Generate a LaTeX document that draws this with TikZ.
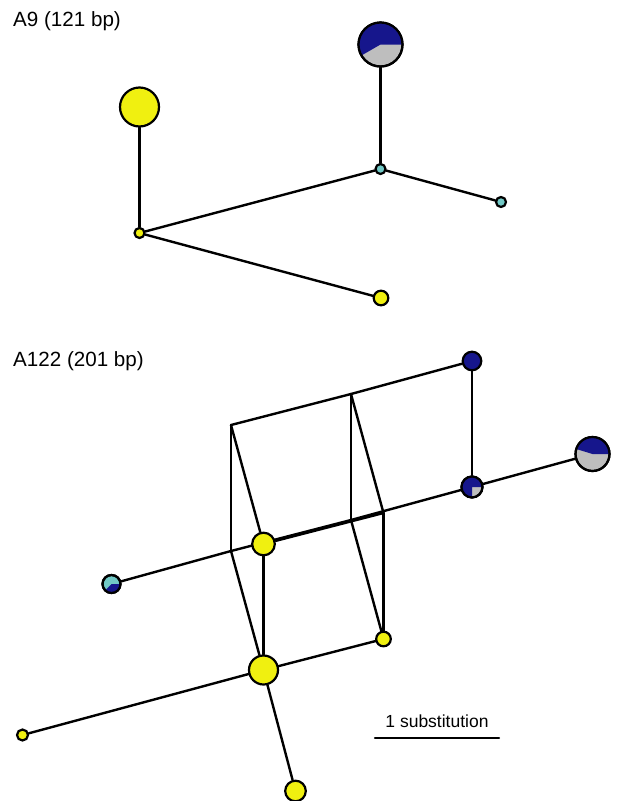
\documentclass[tikz,border=0pt]{standalone}
\usepackage{fontspec}
\setsansfont{Liberation Sans}
\usetikzlibrary{backgrounds}
\definecolor{hapyellow}{HTML}{F0F010}
\definecolor{hapnavy}{HTML}{16168C}
\definecolor{hapgrey}{HTML}{BEBEBE}
\definecolor{hapcyan}{HTML}{72C9C6}

\begin{document}
\begin{tikzpicture}[
  x=1pt, y=-1pt,
  % one circle per haplotype, its size is the number of sequences
  hap/.style      = {circle, draw=black, line width=2.2pt, inner sep=0pt,
                     minimum size=#1},
  % border drawn again on top of a pie wedge
  rim/.style      = {draw=black, line width=2.2pt},
  link/.style     = {draw=black, line width=2.4pt, line cap=round, line join=round},
  title/.style    = {font=\sffamily\fontsize{20.6}{24}\selectfont, anchor=base west,
                     inner sep=0pt},
  barlabel/.style = {font=\sffamily\fontsize{17.5}{21}\selectfont, anchor=base,
                     inner sep=0pt},
]
\useasboundingbox (0,0) rectangle (617,801);

% -------------------------------------------------------------------- A9 --
\node[title] (t9) at (13,26.5) {A9 (121 bp)};
\node[hap=39pt, fill=hapyellow] (y9big) at (139.5,107) {};
\node[hap=10pt, fill=hapyellow] (y9hub) at (139.5,233) {};
\node[hap=14.6pt, fill=hapyellow] (y9tip) at (381,298) {};
\node[hap=10pt, fill=hapcyan] (c9hub) at (380.5,169) {};
\node[hap=10pt, fill=hapcyan] (c9tip) at (501,202) {};
\node[hap=44pt, fill=hapgrey] (p9) at (380.5,44.5) {};
\fill[hapnavy] (p9.center) -- ++(0:22) arc[start angle=0, end angle=-210, radius=22] -- cycle;
\draw[rim] (p9.center) circle[radius=22];

% ------------------------------------------------------------------ A122 --
\node[title] (t122) at (13,366.7) {A122 (201 bp)};

% median vectors, corners of the cube
\coordinate (mA) at (231,425);
\coordinate (mB) at (351,394);
\coordinate (mC) at (231,551);
\coordinate (mE) at (351,520);
\coordinate (mD) at (383.5,513);

\node[hap=22.6pt, fill=hapyellow] (y1) at (263.5,544) {};
\node[hap=29pt, fill=hapyellow] (y2) at (263.5,670) {};
\node[hap=14.6pt, fill=hapyellow] (y3) at (383.5,639) {};
\node[hap=11pt, fill=hapyellow] (y4) at (22.5,735) {};
\node[hap=20.6pt, fill=hapyellow] (y5) at (295.5,791) {};
\node[hap=18.6pt, fill=hapnavy] (n1) at (472,361) {};

\node[hap=21pt, fill=hapgrey] (n2) at (472,487) {};
\fill[hapnavy] (n2.center) -- ++(0:10.5) arc[start angle=0, end angle=-270, radius=10.5] -- cycle;
\draw[rim] (n2.center) circle[radius=10.5];

\node[hap=34pt, fill=hapgrey] (n3) at (592.5,454) {};
\fill[hapnavy] (n3.center) -- ++(0:17) arc[start angle=0, end angle=-163, radius=17] -- cycle;
\draw[rim] (n3.center) circle[radius=17];

\node[hap=18pt, fill=hapcyan] (c1) at (111.5,584) {};
\fill[hapnavy] (c1.center) -- ++(-225:9) arc[start angle=-225, end angle=-360, radius=9] -- cycle;
\draw[rim] (c1.center) circle[radius=9];

% ------------------------------------------------------------ scale bar --
\node[barlabel] (sub) at (437,727.3) {1 substitution};
\coordinate (barL) at (375,738);
\coordinate (barR) at (499,738);
\draw[link] (barL) -- (barR);

% ----------------------------------------------------------------- links --
\begin{scope}[on background layer]
  \draw[link] (y9big) -- (y9hub);
  \draw[link] (y9hub) -- (c9hub);
  \draw[link] (y9hub) -- (y9tip);
  \draw[link] (c9hub) -- (p9);
  \draw[link] (c9hub) -- (c9tip);

  \draw[link] (mA) -- (mB);
  \draw[link] (mA) -- (mC);
  \draw[link] (mA) -- (y1);
  \draw[link] (mB) -- (mE);
  \draw[link] (mB) -- (mD);
  \draw[link] (mC) -- (mE);
  \draw[link] (mC) -- (y2);
  \draw[link] (mE) -- (y3);
  \draw[link] (y1) -- (mD);
  \draw[link] (y1) -- (y2);
  \draw[link] (mD) -- (y3);
  \draw[link] (y2) -- (y3);
  \draw[link] (mB) -- (n1);
  \draw[link] (n1) -- (n2);
  \draw[link] (mE) -- (n2);
  \draw[link] (n2) -- (n3);
  \draw[link] (c1) -- (mC);
  \draw[link] (y2) -- (y4);
  \draw[link] (y2) -- (y5);
\end{scope}

\end{tikzpicture}
\end{document}
